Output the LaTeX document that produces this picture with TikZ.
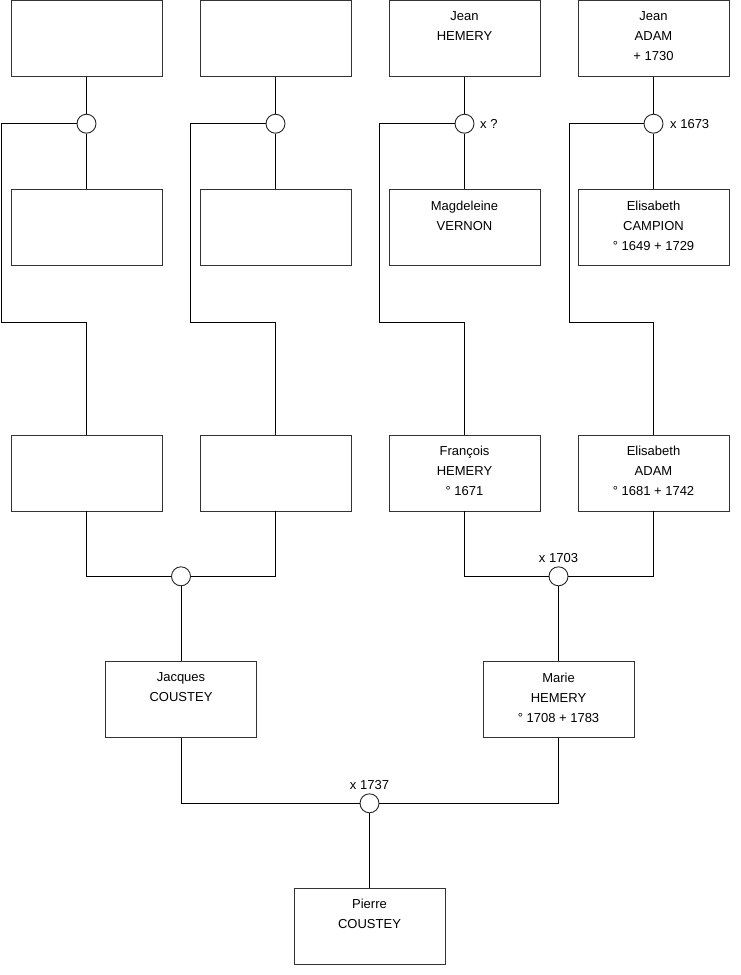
\documentclass[tikz,border=0pt]{standalone}
\usepackage{fontspec}
\setmainfont{Liberation Sans}
\begin{document}
\begin{tikzpicture}[x=1pt,y=-1pt,
  pbox/.style={draw=black!80, line width=0.9pt, minimum width=151pt, minimum height=76pt, inner sep=0pt, fill=white},
  ptext/.style={anchor=north, align=center, inner sep=0pt, yshift=-11.6pt, font=\fontsize{13}{20}\selectfont},
  union/.style={draw=black!85, line width=0.9pt, circle, minimum size=19pt, inner sep=0pt, fill=white},
  lbl/.style={inner sep=0pt, font=\fontsize{13}{15}\selectfont},
  link/.style={draw=black, line width=0.9pt}]
\path[use as bounding box] (0,0) rectangle (740,975);
% row 1
\node[pbox] (b1) at (86.5,38.3) {};
\node[pbox] (b2) at (275.5,38.3) {};
\node[pbox] (b3) at (464.5,38.3) {};
\node[pbox] (b4) at (653.5,38.3) {};
% row 2
\node[pbox] (b5) at (86.5,227.5) {};
\node[pbox] (b6) at (275.5,227.5) {};
\node[pbox] (b7) at (464.5,227.5) {};
\node[pbox] (b8) at (653.5,227.5) {};
% row 3
\node[pbox] (b9) at (86.5,473) {};
\node[pbox] (b10) at (275.5,473) {};
\node[pbox] (b11) at (464.5,473) {};
\node[pbox] (b12) at (653.5,473) {};
% row 4
\node[pbox] (jac) at (181,699.5) {};
\node[pbox] (mar) at (558.5,699.5) {};
% row 5
\node[pbox] (pie) at (369.5,926) {};
% texts
\node[ptext] at (b3.north) {Jean\\HEMERY};
\node[ptext] at (b4.north) {Jean\\ADAM\\+ 1730};
\node[ptext] at (b7.north) {Magdeleine\\VERNON};
\node[ptext] at (b8.north) {Elisabeth\\CAMPION\\° 1649 + 1729};
\node[ptext] at (b11.north) {François\\HEMERY\\° 1671};
\node[ptext] at (b12.north) {Elisabeth\\ADAM\\° 1681 + 1742};
\node[ptext] at (jac.north) {Jacques\\COUSTEY};
\node[ptext] at (mar.north) {Marie\\HEMERY\\° 1708 + 1783};
\node[ptext] at (pie.north) {Pierre\\COUSTEY};
% union circles
\node[union] (u1) at (86.5,123.7) {};
\node[union] (u2) at (275.5,123.7) {};
\node[union] (u3) at (464.5,123.7) {};
\node[union] (u4) at (653.5,123.7) {};
\node[union] (u5) at (181,576.3) {};
\node[union] (u6) at (558.5,576.3) {};
\node[union] (u7) at (369.5,803.3) {};
% labels
\node[lbl, anchor=west] (l3) at (480,123.7) {x ?};
\node[lbl, anchor=west] (l4) at (670,123.7) {x 1673};
\node[lbl] (l6) at (558.5,558.3) {x 1703};
\node[lbl] (l7) at (369.5,785.5) {x 1737};
% links top
\foreach \a/\u/\c in {b1/u1/b5, b2/u2/b6, b3/u3/b7, b4/u4/b8}{
  \draw[link] (\a.south) -- (\u.north);
  \draw[link] (\u.south) -- (\c.north);
}
\coordinate (k1) at (1.7,123.7);
\coordinate (k2) at (190.5,123.7);
\coordinate (k3) at (379,123.7);
\coordinate (k4) at (569.7,123.7);
\draw[link] (u1.west) -- (k1) |- (86.5,322) -- (b9.north);
\draw[link] (u2.west) -- (k2) |- (275.5,322) -- (b10.north);
\draw[link] (u3.west) -- (k3) |- (464.5,322) -- (b11.north);
\draw[link] (u4.west) -- (k4) |- (653.5,322) -- (b12.north);
% links middle
\draw[link] (b9.south) |- (u5.west);
\draw[link] (b10.south) |- (u5.east);
\draw[link] (u5.south) -- (jac.north);
\draw[link] (b11.south) |- (u6.west);
\draw[link] (b12.south) |- (u6.east);
\draw[link] (u6.south) -- (mar.north);
% links bottom
\draw[link] (jac.south) |- (u7.west);
\draw[link] (mar.south) |- (u7.east);
\draw[link] (u7.south) -- (pie.north);
\end{tikzpicture}
\end{document}
